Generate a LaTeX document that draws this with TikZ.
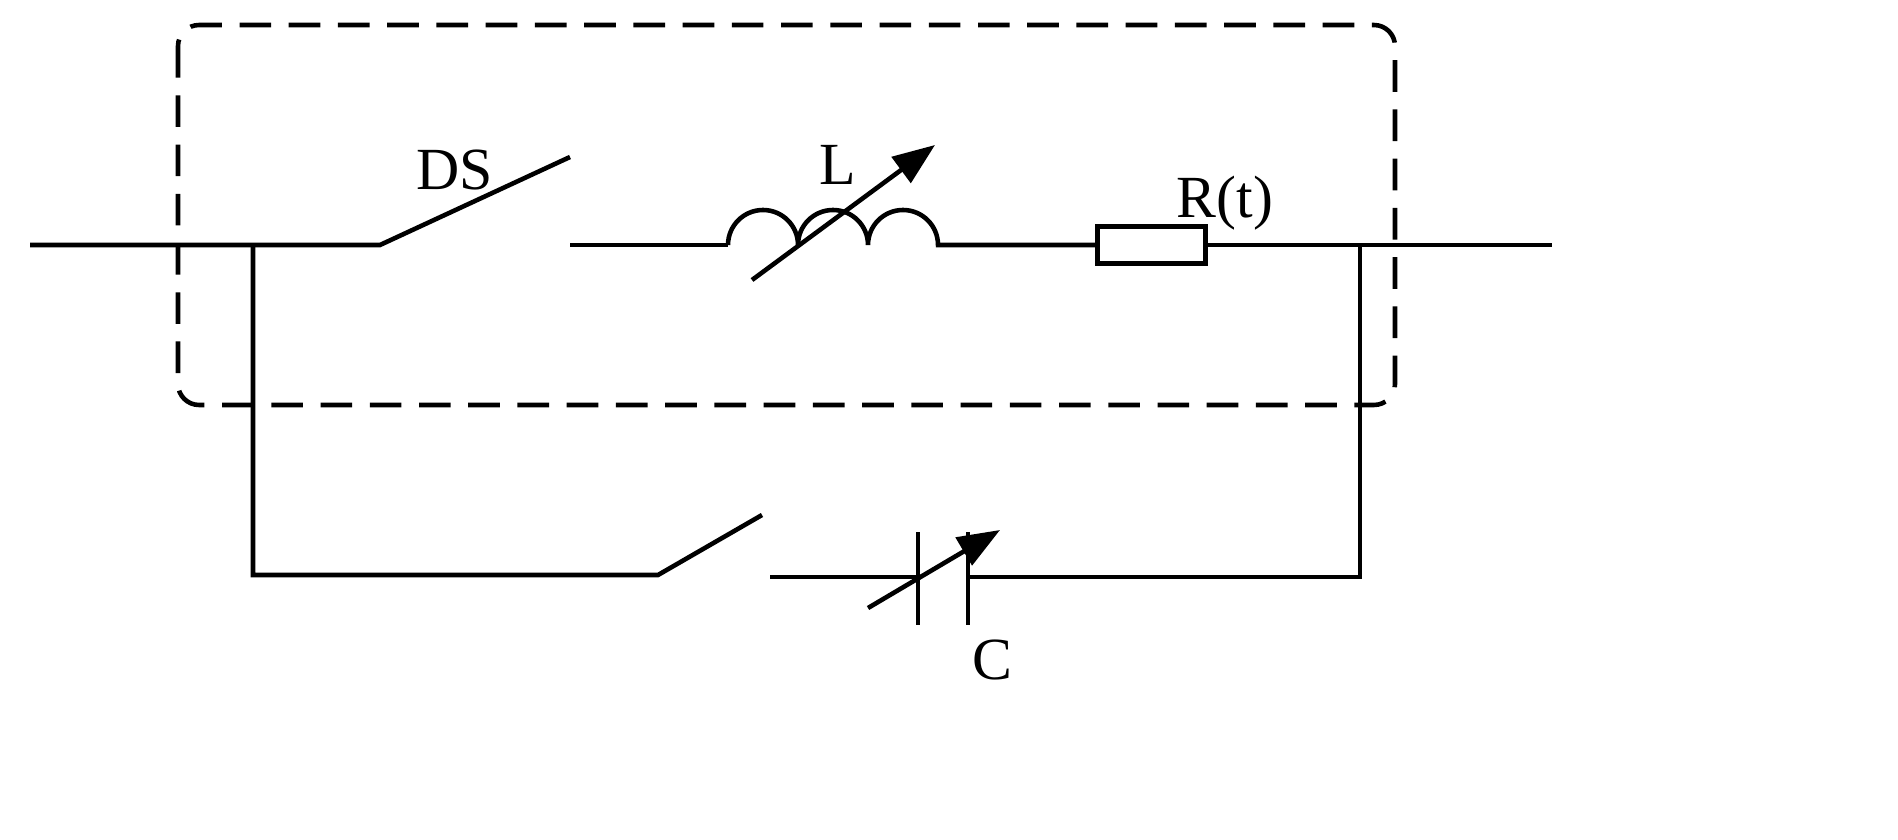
\documentclass[tikz,border=0pt]{standalone}
\usepackage{fontspec}
\setmainfont{Liberation Serif}
\usetikzlibrary{arrows.meta}
\begin{document}
\begin{tikzpicture}[x=0.01cm,y=-0.01cm,
  wire/.style={line width=1.3pt},
  lbl/.style={font=\fontsize{17}{20}\selectfont},
  varrow/.style={line width=1.3pt,-{Triangle[length=12pt,width=9pt]}}]
\draw[line width=1.3pt,dash pattern=on 9pt off 5pt,rounded corners=6pt] (178,25) rectangle (1395,405);
\coordinate (a0) at (30,245);
\coordinate (j1) at (253,245);
\coordinate (p1) at (380,245);
\coordinate (t1) at (570,157);
\coordinate (c1) at (570,245);
\coordinate (l0) at (728,245);
\coordinate (r0) at (1095,245);
\coordinate (a1) at (1552,245);
\coordinate (j2) at (1360,245);
\coordinate (b0) at (253,575);
\coordinate (p2) at (658,575);
\coordinate (t2) at (762,515);
\coordinate (c2) at (770,577);
\coordinate (k0) at (918,577);
\coordinate (k1) at (968,577);
\coordinate (b1) at (1360,577);
\draw[wire] (a0) -- (p1) -- (t1);
\draw[wire] (c1) -- (l0);
\draw[wire] (l0) arc[start angle=180,end angle=360,radius=35] arc[start angle=180,end angle=360,radius=35] arc[start angle=180,end angle=360,radius=35] -- (r0);
\node[draw,line width=1.3pt,minimum width=1.08cm,minimum height=0.37cm,inner sep=0pt,anchor=west] (R) at (r0) {};
\draw[wire] (R.east) -- (a1);
\draw[wire] (j1) -- (b0) -- (p2) -- (t2);
\draw[wire] (c2) -- (k0);
\draw[wire] (k0 |- 0,532) -- (k0 |- 0,625);
\draw[wire] (k1 |- 0,532) -- (k1 |- 0,625);
\draw[wire] (k1) -- (b1) -- (j2);
\draw[varrow] (752,280) -- (935,145);
\draw[varrow] (868,608) -- (1000,530);
\node[lbl] (ds) at (455,170) {DS};
\node[lbl] (lL) at (838,165) {L};
\node[lbl] (lR) at (1225,203) {R(t)};
\node[lbl] (lC) at (992,660) {C};
\pgfresetboundingbox
\useasboundingbox (0,0) rectangle (1898,840);
\end{tikzpicture}
\end{document}
